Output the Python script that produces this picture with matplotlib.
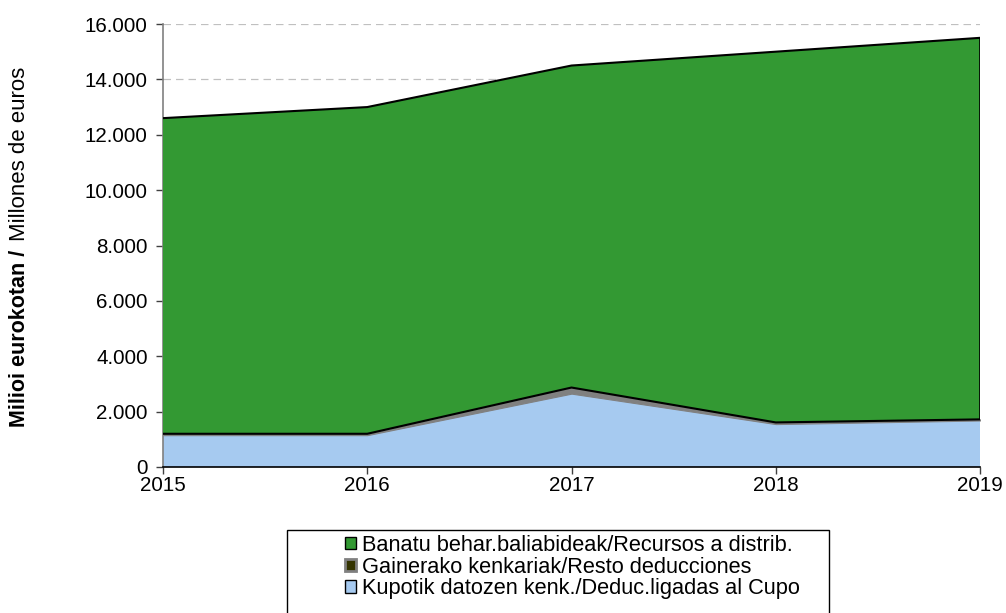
import matplotlib
matplotlib.use('Agg')
import matplotlib.pyplot as plt
from matplotlib.patches import Patch, Rectangle
from matplotlib.ticker import FuncFormatter
import numpy as np

plt.rcParams['font.family'] = ['Liberation Sans', 'DejaVu Sans']

# Millones de euros por año
years = [2015, 2016, 2017, 2018, 2019]
deduc_cupo = [1150, 1150, 2650, 1550, 1680]
resto_deduc = [50, 50, 220, 60, 40]
recursos = [11400, 11800, 11630, 13390, 13780]

labels = ['Banatu behar.baliabideak/Recursos a distrib.',
          'Gainerako kenkariak/Resto deducciones',
          'Kupotik datozen kenk./Deduc.ligadas al Cupo']

green = '#339933'
grey = '#808080'
blue = '#a6caf0'

b1 = np.array(deduc_cupo)
b2 = b1 + np.array(resto_deduc)
b3 = b2 + np.array(recursos)

fig = plt.figure(figsize=(10.06, 6.13), dpi=100)
ax = fig.add_axes([163 / 1006, 1 - 467 / 613, (980 - 163) / 1006, (467 - 24) / 613])

ax.fill_between(years, 0, b1, facecolor=blue, edgecolor='none', zorder=2)
ax.fill_between(years, b1, b2, facecolor=grey, edgecolor=grey, linewidth=0.8, zorder=3)
ax.fill_between(years, b2, b3, facecolor=green, edgecolor='none', zorder=4)
ax.plot(years, b3, color='black', linewidth=1.5, zorder=5)
ax.plot(years, b2, color='black', linewidth=1.5, zorder=5)
ax.plot([years[-1], years[-1]], [b2[-1], b3[-1]], color='black', linewidth=1.2, zorder=5)

ax.set_xlim(2015, 2019)
ax.set_ylim(0, 16000)
ax.set_xticks(years)
ax.set_yticks(range(0, 16001, 2000))
ax.yaxis.set_major_formatter(FuncFormatter(lambda v, p: f'{int(v):,}'.replace(',', '.')))
ax.grid(axis='y', color='#c0c0c0', linestyle=(0, (6, 4)), linewidth=0.9, zorder=0)
ax.set_axisbelow(True)

for s in ['top', 'right']:
    ax.spines[s].set_visible(False)
ax.spines['left'].set_color(grey)
ax.spines['left'].set_linewidth(1.2)
ax.spines['bottom'].set_color('black')
ax.spines['bottom'].set_linewidth(1.2)
ax.spines['bottom'].set_zorder(6)
ax.tick_params(axis='both', direction='out', length=5, width=1, labelsize=14.8, color='#404040')
ax.tick_params(axis='x', pad=1.5)
ax.tick_params(axis='y', pad=6)

# y axis title: bold Basque part, then regular Spanish part
t1 = fig.text(20 / 1006, 1 - 427 / 613, 'Milioi eurokotan /', rotation=90,
              fontsize=15.5, fontweight='bold', ha='center', va='bottom')
fig.canvas.draw()
bb = t1.get_window_extent()
fig.text(20 / 1006, (bb.y1 + 9) / 613, 'Millones de euros', rotation=90,
         fontsize=16, ha='center', va='bottom')

# legend box
fig.patches.append(Rectangle((287 / 1006, -0.05), (829 - 287) / 1006, 0.05 + (613 - 530) / 613,
                             transform=fig.transFigure, facecolor='white',
                             edgecolor='black', linewidth=1, clip_on=False))
handles = [Patch(facecolor=green, edgecolor='black', linewidth=1),
           Patch(facecolor='#333300', edgecolor=grey, linewidth=2),
           Patch(facecolor=blue, edgecolor='black', linewidth=1)]
fig.legend(handles, labels, loc='upper left', bbox_to_anchor=(345 / 1006, 1 - 535 / 613),
           frameon=False, fontsize=15.7, handlelength=0.5, handleheight=0.5,
           handletextpad=0.3, labelspacing=0.03, borderaxespad=0, borderpad=0)

fig.savefig('out.png', dpi=100)
